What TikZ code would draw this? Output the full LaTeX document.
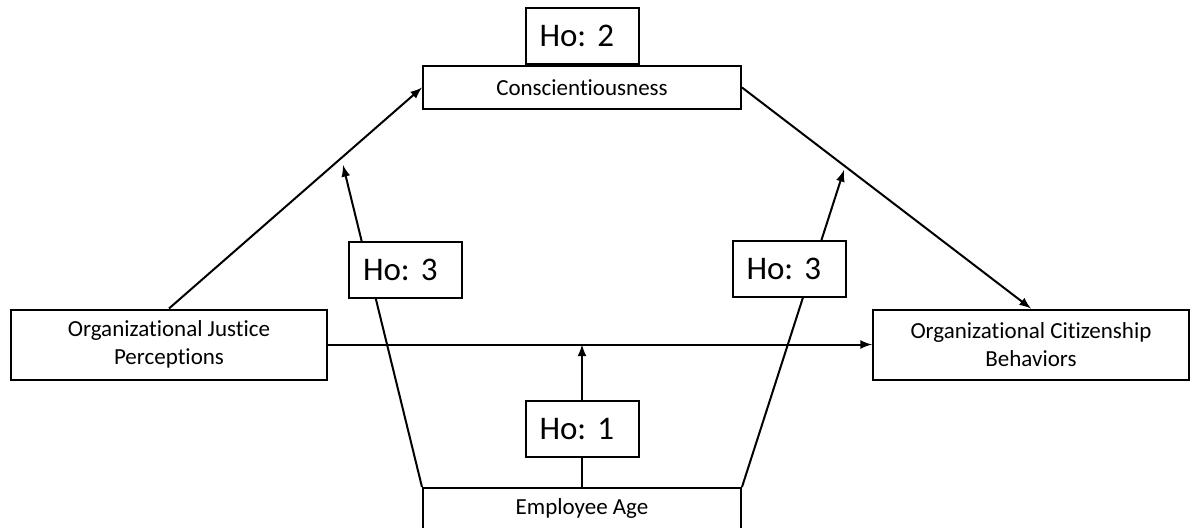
\documentclass[tikz,border=0pt]{standalone}
\usepackage{fontspec}
\setmainfont{Carlito}[Ligatures={NoCommon}]
\frenchspacing
\usetikzlibrary{arrows,positioning,backgrounds}
\tikzstyle{block} = [
  rectangle, draw, fill=white, line width=1pt, align=center,
  inner sep=0pt, font=\fontsize{11.5}{14}\selectfont
]
\tikzstyle{hobox} = [
  rectangle, draw, fill=white, line width=1pt, align=left, text width=42.5pt,
  inner xsep=7pt, inner ysep=0pt, minimum height=28pt,
  font=\fontsize{16.5}{20}\selectfont
]
\tikzstyle{link} = [line width=1pt]

\begin{document}
\begin{tikzpicture}[x=0.5pt, y=-0.5pt]
    \useasboundingbox (0,0) rectangle (1191,527);

    \node[block, minimum width=159pt, minimum height=21.5pt] (consc) at (582,87.5) {Conscientiousness};
    \node[hobox, above=0pt of consc] (ho2) {Ho: 2};
    \node[block, minimum width=158pt, minimum height=35pt] (ojp) at (169,344.5) {Organizational Justice\\Perceptions};
    \node[block, minimum width=158pt, minimum height=35pt] (ocb) at (1031,344.5) {Organizational Citizenship\\Behaviors};
    \node[block, minimum width=159pt, anchor=north, text height=13pt, text depth=15pt] (age) at (582,487) {Employee Age};
    \node[hobox, above=14.5pt of age] (ho1) {Ho: 1};
    \node[hobox] (ho3a) at (405.5,269.5) {Ho: 3};
    \node[hobox] (ho3b) at (789,268.5) {Ho: 3};

    \coordinate (m1) at (age.north |- ojp.east);
    \coordinate (m3a) at (343,165);
    \coordinate (m3b) at (844,170);

    \begin{scope}[on background layer]
    \draw[link, -latex] (ojp.north) -- (consc.west);
    \draw[link, -latex] (consc.east) -- (ocb.north);
    \draw[link, -latex] (ojp.east) -- (ocb.west);
    \draw[link, -latex] (age.north) -- (m1);
    \draw[link, -latex] (age.north west) -- (m3a);
    \draw[link, -latex] (age.north east) -- (m3b);
    \end{scope}
  \end{tikzpicture}
\end{document}
